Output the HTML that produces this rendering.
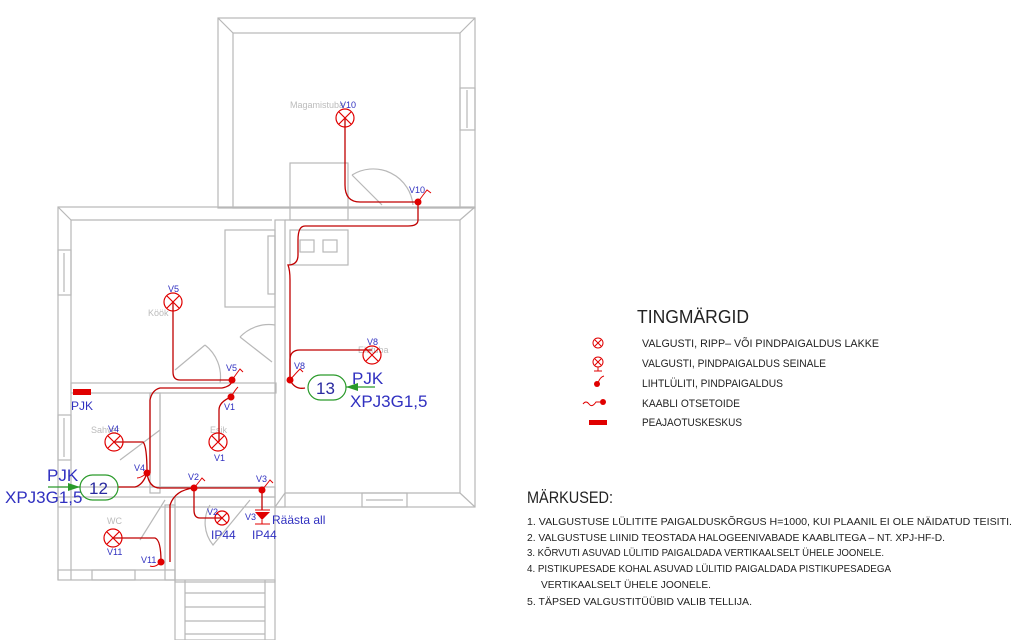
<!DOCTYPE html>
<html><head><meta charset="utf-8"><style>
html,body{margin:0;padding:0;background:#fff;width:1027px;height:640px;overflow:hidden}
svg{display:block}
text{font-family:"Liberation Sans Narrow","Liberation Sans",sans-serif}
</style></head><body>
<svg width="1027" height="640" viewBox="0 0 1027 640" xmlns="http://www.w3.org/2000/svg">
<g fill="none" stroke="#b8b8b8" stroke-width="1.2">
<!-- bedroom block -->
<rect x="218" y="18" width="257" height="190"/>
<rect x="233" y="33" width="227" height="175"/>
<line x1="218" y1="18" x2="233" y2="33"/><line x1="475" y1="18" x2="460" y2="33"/>
<rect x="460" y="88" width="15" height="42"/><line x1="467" y1="90" x2="467" y2="128"/>
<rect x="290" y="163" width="58" height="57"/>
<!-- main block -->
<rect x="58" y="207" width="417" height="300"/>
<line x1="71" y1="220" x2="272" y2="220"/><line x1="71" y1="220" x2="71" y2="580"/>
<line x1="58" y1="207" x2="71" y2="220"/><line x1="475" y1="207" x2="460" y2="220"/>
<line x1="285" y1="220" x2="460" y2="220"/><line x1="460" y1="220" x2="460" y2="493"/>
<line x1="285" y1="493" x2="460" y2="493"/><line x1="460" y1="493" x2="475" y2="507"/>
<line x1="285" y1="493" x2="275" y2="507"/>
<rect x="362" y="493" width="45" height="14"/><line x1="366" y1="500" x2="403" y2="500"/>
<rect x="58" y="250" width="13" height="45"/><line x1="64" y1="253" x2="64" y2="292"/>
<rect x="58" y="415" width="13" height="45"/><line x1="64" y1="418" x2="64" y2="457"/>
<!-- vertical wall -->
<rect x="275" y="220" width="10" height="287"/>
<rect x="225" y="230" width="50" height="77"/>
<rect x="268" y="236" width="7" height="58"/>
<rect x="290" y="230" width="58" height="35"/>
<rect x="300" y="240" width="14" height="12"/><rect x="323" y="240" width="14" height="12"/>
<!-- horizontal wall kitchen -->
<rect x="71" y="383" width="205" height="10"/>
<rect x="150" y="393" width="10" height="100"/>
<!-- bottom wall -->
<rect x="58" y="487" width="217" height="10"/>
<!-- WC -->
<line x1="58" y1="497" x2="58" y2="580"/>
<rect x="58" y="570" width="117" height="10"/>
<rect x="92" y="570" width="43" height="10"/>
<rect x="165" y="505" width="10" height="75"/>
<!-- porch -->
<rect x="175" y="497" width="100" height="85"/>
<rect x="175" y="580" width="100" height="60"/>
<line x1="185" y1="580" x2="185" y2="640"/><line x1="265" y1="580" x2="265" y2="640"/>
<line x1="185" y1="593" x2="265" y2="593"/><line x1="185" y1="607" x2="265" y2="607"/><line x1="185" y1="621" x2="265" y2="621"/><line x1="185" y1="634" x2="265" y2="634"/>
<!-- doors -->
<path d="M382 205 L352 175 M352 175 A40 40 0 0 1 413 205"/>
<path d="M175 370 L205 345 M205 345 A40 40 0 0 1 220 383"/>
<path d="M240 337 L272 362 M240 337 A40 40 0 0 1 275 325"/>
<path d="M160 430 L120 460 M160 430 L160 395"/>
<path d="M165 500 L140 540 M210 505 A35 35 0 0 0 213 545 L250 500"/>
</g>
<g fill="#bbb" font-size="9">
<text x="290" y="108">Magamistuba</text>
<text x="148" y="316">Köök</text>
<text x="358" y="353">Elutuba</text>
<text x="91" y="433">Sahver</text>
<text x="210" y="433">Esik</text>
<text x="107" y="524">WC</text>
</g>
<!-- cables -->
<g fill="none" stroke="#c00000" stroke-width="1.3">
<path d="M345 118 V185 Q345 202 360 202 H418"/>
<path d="M418 202 V220 Q418 226 408 226 H305 Q298 226 298 240 V255 Q298 265 288 265 Q290 270 290 280 V380"/>
<path d="M290 380 V360 Q290 350 300 350 H372"/>
<path d="M290 380 Q295 390 305 388"/>
<path d="M173 302 V372 Q173 380 180 380 H232"/>
<path d="M232 380 Q232 386 222 388 H160 Q152 390 150 400 V473"/>
<path d="M231 397 Q219 402 219 410 V442"/>
<path d="M114 442 H143 Q147 446 147 473"/>
<path d="M147 473 Q143 485 135 487 H118"/>
<path d="M147 473 Q149 488 160 488 H262"/>
<path d="M194 488 V510 Q194 518 200 518 H222"/>
<path d="M262 488 V510"/>
<path d="M194 488 Q175 490 170 505 V562"/>
<path d="M113 538 H155 Q161 540 161 562"/>
</g>
<g fill="#e00000">
<circle cx="418" cy="202" r="3.5"/><circle cx="290" cy="380" r="3.5"/>
<circle cx="232" cy="380" r="3.5"/><circle cx="231" cy="397" r="3.5"/>
<circle cx="147" cy="473" r="3.5"/><circle cx="194" cy="488" r="3.5"/>
<circle cx="262" cy="490" r="3.5"/><circle cx="161" cy="562" r="3.5"/>
<rect x="73" y="389" width="18" height="6"/>
<path d="M255 512 H270 L262 520 Z"/>
</g>
<g fill="none" stroke="#e00000" stroke-width="1">
<path d="M418 202 Q423 195 427 190 L431 193"/><path d="M290 380 Q296 373 300 369 L303 372"/>
<path d="M232 380 Q237 373 240 369 L243 372"/><path d="M231 397 Q235 390 238 387"/>
<path d="M147 473 Q141 478 137 478"/><path d="M194 488 Q199 482 202 478 L205 481"/>
<path d="M262 490 Q267 484 270 480 L273 483"/><path d="M161 562 Q155 568 150 566"/>
<line x1="255" y1="510" x2="270" y2="510"/><line x1="255" y1="524" x2="270" y2="524"/><line x1="262" y1="520" x2="262" y2="524"/>
</g>
<!-- lamps -->
<g fill="none" stroke="#e00000" stroke-width="1.2">
<g transform="translate(345,118)"><circle r="9"/><path d="M-6 -6L6 6M6 -6L-6 6"/></g>
<g transform="translate(173,302)"><circle r="9"/><path d="M-6 -6L6 6M6 -6L-6 6"/></g>
<g transform="translate(372,355)"><circle r="9"/><path d="M-6 -6L6 6M6 -6L-6 6"/></g>
<g transform="translate(114,442)"><circle r="9"/><path d="M-6 -6L6 6M6 -6L-6 6"/></g>
<g transform="translate(218,442)"><circle r="9"/><path d="M-6 -6L6 6M6 -6L-6 6"/></g>
<g transform="translate(113,538)"><circle r="9"/><path d="M-6 -6L6 6M6 -6L-6 6"/></g>
<g transform="translate(222,518)"><circle r="7"/><path d="M-5 -5L5 5M5 -5L-5 5"/></g>
</g>
<g fill="#3030c0" font-size="9">
<text x="340" y="108">V10</text><text x="409" y="193">V10</text>
<text x="168" y="292">V5</text><text x="226" y="371">V5</text>
<text x="367" y="345">V8</text><text x="294" y="369">V8</text>
<text x="108" y="432">V4</text><text x="134" y="471">V4</text>
<text x="224" y="410">V1</text><text x="214" y="461">V1</text>
<text x="188" y="480">V2</text><text x="207" y="515">V2</text>
<text x="256" y="482">V3</text><text x="245" y="520">V3</text>
<text x="107" y="555">V11</text><text x="141" y="563">V11</text>
<text x="71" y="410" font-size="12">PJK</text>
<text x="272" y="524" font-size="12">Räästa all</text>
<text x="211" y="539" font-size="12">IP44</text>
<text x="252" y="539" font-size="12">IP44</text>
<text x="47" y="481" font-size="17">PJK</text>
<text x="5" y="503" font-size="17">XPJ3G1,5</text>
<text x="352" y="384" font-size="17">PJK</text>
<text x="350" y="407" font-size="17">XPJ3G1,5</text>
</g>
<g stroke="#2a9a2a" fill="none" stroke-width="1.2">
<rect x="80" y="475" width="38" height="25" rx="12.5"/>
<rect x="308" y="375" width="38" height="25" rx="12.5"/>
<line x1="48" y1="487" x2="80" y2="487"/><line x1="346" y1="387" x2="375" y2="387"/>
</g>
<path d="M80 487 L68 483 V491 Z M346 387 L358 383 V391 Z" fill="#2a9a2a"/>
<g fill="#2a2aa0" font-size="17"><text x="89" y="494">12</text><text x="316" y="394">13</text></g>
<!-- legend -->
<g fill="#222">
<text x="637" y="323" font-size="18" textLength="112" lengthAdjust="spacingAndGlyphs">TINGMÄRGID</text>
<g font-size="11">
<text x="642" y="347" textLength="237" lengthAdjust="spacingAndGlyphs">VALGUSTI, RIPP– VÕI PINDPAIGALDUS LAKKE</text>
<text x="642" y="367" textLength="184" lengthAdjust="spacingAndGlyphs">VALGUSTI, PINDPAIGALDUS SEINALE</text>
<text x="642" y="387" textLength="141" lengthAdjust="spacingAndGlyphs">LIHTLÜLITI, PINDPAIGALDUS</text>
<text x="642" y="407" textLength="98" lengthAdjust="spacingAndGlyphs">KAABLI OTSETOIDE</text>
<text x="642" y="426" textLength="100" lengthAdjust="spacingAndGlyphs">PEAJAOTUSKESKUS</text>
</g>
<text x="527" y="503" font-size="17" textLength="86" lengthAdjust="spacingAndGlyphs">MÄRKUSED:</text>
<g font-size="10.5">
<text x="527" y="525" textLength="485" lengthAdjust="spacingAndGlyphs">1. VALGUSTUSE LÜLITITE PAIGALDUSKÕRGUS H=1000, KUI PLAANIL EI OLE NÄIDATUD TEISITI.</text>
<text x="527" y="541" textLength="418" lengthAdjust="spacingAndGlyphs">2. VALGUSTUSE LIINID TEOSTADA HALOGEENIVABADE KAABLITEGA – NT. XPJ-HF-D.</text>
<text x="527" y="556" textLength="357" lengthAdjust="spacingAndGlyphs">3. KÕRVUTI ASUVAD LÜLITID PAIGALDADA VERTIKAALSELT ÜHELE JOONELE.</text>
<text x="527" y="572" textLength="364" lengthAdjust="spacingAndGlyphs">4. PISTIKUPESADE KOHAL ASUVAD LÜLITID PAIGALDADA PISTIKUPESADEGA</text>
<text x="541" y="588" textLength="170" lengthAdjust="spacingAndGlyphs">VERTIKAALSELT ÜHELE JOONELE.</text>
<text x="527" y="605" textLength="225" lengthAdjust="spacingAndGlyphs">5. TÄPSED VALGUSTITÜÜBID VALIB TELLIJA.</text>
</g>
</g>
<g fill="none" stroke="#e00000" stroke-width="1">
<circle cx="598" cy="343" r="5"/><path d="M595 340L601 346M601 340L595 346"/>
<circle cx="598" cy="362" r="5"/><path d="M595 359L601 365M601 359L595 365M598 367V371M594 371H602"/>
<path d="M598 383 Q600 377 604 376"/>
<path d="M583 404 Q586 400 589 404 Q592 408 596 402 H600"/>
</g>
<g fill="#e00000">
<circle cx="597" cy="384" r="3"/><circle cx="603" cy="402" r="3"/>
<rect x="589" y="420" width="18" height="5"/>
</g>
</svg>
</body></html>
